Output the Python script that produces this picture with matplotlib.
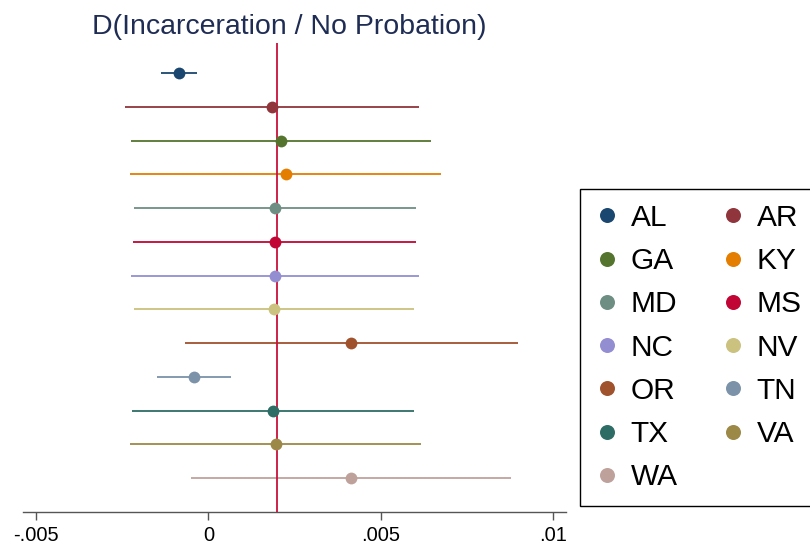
import matplotlib
matplotlib.use("Agg")
import matplotlib.pyplot as plt

plt.rcParams['font.family'] = ['Liberation Sans', 'DejaVu Sans']

# point estimates and 95% CIs by state
states = ["AL", "AR", "GA", "KY", "MD", "MS", "NC", "NV", "OR", "TN", "TX", "VA", "WA"]
est = [-0.00086, 0.00185, 0.00211, 0.00224, 0.00193, 0.00192, 0.00193,
       0.00191, 0.00413, -0.00042, 0.00189, 0.00195, 0.00414]
lo = [-0.00138, -0.00242, -0.00224, -0.00226, -0.00216, -0.00219, -0.00224,
      -0.00216, -0.00069, -0.00148, -0.00221, -0.00228, -0.00050]
hi = [-0.00034, 0.00612, 0.00647, 0.00675, 0.00603, 0.00603, 0.00611,
      0.00598, 0.00898, 0.00065, 0.00597, 0.00617, 0.00879]
colors = ["#1a476f", "#90353b", "#55752f", "#e37e00", "#6e8e84", "#c10534",
          "#938dd2", "#cac27e", "#a0522d", "#7b92a8", "#2d6d66", "#9c8847",
          "#bfa19c"]
ref_value = 0.002

xticks = [-0.005, 0, 0.005, 0.01]
xticklabels = ["-.005", "0", ".005", ".01"]

fig = plt.figure(figsize=(8.1, 5.44), dpi=100)
ax = fig.add_axes([23/810, 1 - 512/544, (566 - 23)/810, (512 - 43)/544])

handles = {}
for i, s in enumerate(states):
    ax.plot([lo[i], hi[i]], [i, i], color=colors[i], lw=1.3, solid_capstyle='butt', zorder=2)
    h, = ax.plot(est[i], i, 'o', color=colors[i], ms=8.5, mec='none', label=s, zorder=4)
    handles[s] = h

ax.axvline(ref_value, color="#c8103c", lw=1.3, zorder=3)

ax.set_xlim(-0.00538, 0.01038)
ax.set_ylim(13.0, -0.89)
ax.set_xticks(xticks)
ax.set_xticklabels(xticklabels, fontsize=14.5)
ax.set_yticks([])
for side in ["top", "right", "left"]:
    ax.spines[side].set_visible(False)
ax.spines["bottom"].set_color("#555555")
ax.spines["bottom"].set_linewidth(1.0)
ax.tick_params(axis='x', length=6, width=1, color="#555555", pad=4)

fig.text(289.5/810, 1 - 33.5/544, "D(Incarceration / No Probation)",
         fontsize=20.5, color="#1f2d55", ha='center', va='baseline')

# two-column legend, filled row by row
order = states[0::2] + states[1::2]
fig.legend([handles[s] for s in order], order, loc='upper left',
           bbox_to_anchor=(580/810, 1 - 189/544), borderaxespad=0, ncol=2,
           fontsize=21.5, frameon=True, fancybox=False, edgecolor='black',
           framealpha=1, handlelength=0.8, handletextpad=0.4,
           columnspacing=1.44, labelspacing=0.51, borderpad=0.5,
           markerscale=1.27)
fig.legends[0].get_frame().set_linewidth(1.0)

fig.savefig("out.png", dpi=100)
